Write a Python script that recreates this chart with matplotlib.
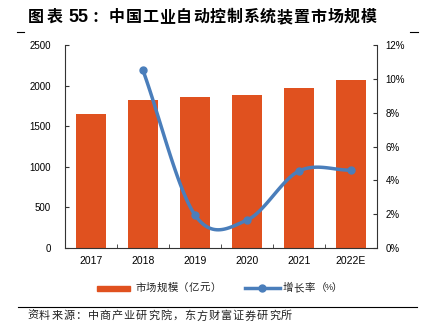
import numpy as np
import matplotlib
matplotlib.use('Agg')
import matplotlib.pyplot as plt
from matplotlib.lines import Line2D
from matplotlib.patches import Rectangle

plt.rcParams['font.family'] = ['Liberation Sans', 'Noto Sans CJK SC', 'DejaVu Sans']

years = ['2017', '2018', '2019', '2020', '2021', '2022E']
market = [1650, 1820, 1860, 1885, 1975, 2065]
growth_years = [1, 2, 3, 4, 5]
growth = [10.5, 1.95, 1.65, 4.55, 4.6]

bar_color = '#E0511F'
line_color = '#4A7EBB'

W, H = 424, 336


def catmull_rom(xs, ys, n=30):
    xs = np.asarray(xs, float)
    ys = np.asarray(ys, float)
    px = np.concatenate([[2 * xs[0] - xs[1]], xs, [2 * xs[-1] - xs[-2]]])
    py = np.concatenate([[2 * ys[0] - ys[1]], ys, [2 * ys[-1] - ys[-2]]])
    outx, outy = [], []
    t = np.linspace(0, 1, n)
    for i in range(1, len(px) - 2):
        for p, out in ((px, outx), (py, outy)):
            p0, p1, p2, p3 = p[i - 1], p[i], p[i + 1], p[i + 2]
            out.extend(0.5 * (2 * p1 + (-p0 + p2) * t
                              + (2 * p0 - 5 * p1 + 4 * p2 - p3) * t ** 2
                              + (-p0 + 3 * p1 - 3 * p2 + p3) * t ** 3))
    return np.array(outx), np.array(outy)


def spaced(fig, x, y, s, pitch, **kw):
    # CJK text drawn char by char with a fixed pitch (pixels)
    for i, ch in enumerate(s):
        fig.text((x + i * pitch) / W, 1 - y / H, ch, va='center', ha='left',
                 family=['Noto Sans CJK SC', 'DejaVu Sans'], **kw)


fig = plt.figure(figsize=(4.24, 3.36), dpi=100)
ax = fig.add_axes([65 / W, 88 / H, 312 / W, 203 / H])
x = np.arange(len(years))
ax.bar(x, market, width=0.58, color=bar_color, zorder=2)
ax.set_xlim(-0.5, len(years) - 0.5)
ax.set_ylim(0, 2500)
ax.set_yticks(range(0, 2501, 500))
ax.set_xticks(x)
ax.set_xticklabels(years)
ax.set_xticks(np.arange(-0.5, len(years), 1), minor=True)
ax.tick_params(axis='x', which='major', length=0, labelsize=7.5, pad=6)
ax.tick_params(axis='x', which='minor', length=3, direction='in', color='#333333')
ax.tick_params(axis='y', labelsize=7, length=3, direction='in', pad=10, color='#333333')
for s in ['top', 'right']:
    ax.spines[s].set_visible(False)
for s in ['left', 'bottom']:
    ax.spines[s].set_color('#333333')
    ax.spines[s].set_linewidth(0.8)

ax2 = ax.twinx()
ax2.set_ylim(0, 12)
ax2.set_yticks(range(0, 13, 2))
ax2.set_yticklabels([f'{v}%' for v in range(0, 13, 2)])
ax2.tick_params(axis='y', labelsize=7, length=3, direction='in', pad=6, color='#333333')
for s in ['top', 'left', 'bottom']:
    ax2.spines[s].set_visible(False)
ax2.spines['right'].set_color('#333333')
ax2.spines['right'].set_linewidth(0.8)
sx, sy = catmull_rom(growth_years, growth)
ax2.plot(sx, sy, color=line_color, lw=2.5, zorder=3)
ax2.plot(growth_years, growth, 'o', color=line_color, ms=5, zorder=4)

# legend, drawn by hand
fig.add_artist(Rectangle((97 / W, 1 - 291 / H), 33 / W, 5 / H, color=bar_color))
spaced(fig, 135, 288, '市场规模（亿元）', 10.8, fontsize=7.5, color='#222222')
fig.add_artist(Line2D([245 / W, 280 / W], [1 - 288 / H] * 2, color=line_color, lw=2.5))
fig.add_artist(Line2D([262 / W], [1 - 288 / H], color=line_color, marker='o', ms=5))
spaced(fig, 283, 288, '增长率（', 10.8, fontsize=7.5, color='#222222')
fig.text(325 / W, 1 - 288 / H, '%', fontsize=6.5, va='center', ha='left', color='#222222')
spaced(fig, 332, 288, '）', 10.8, fontsize=7.5, color='#222222')

# title
spaced(fig, 28, 17, '图表', 18.5, fontsize=11.5, fontweight='bold')
fig.text(68 / W, 1 - 17 / H, '55', fontsize=13, fontweight='bold', va='center', ha='left')
spaced(fig, 92, 17, '：中国工业自动控制系统装置市场规模', 16.8, fontsize=11.5, fontweight='bold')
fig.add_artist(Line2D([17 / W, 24 / W], [1 - 32 / H] * 2, color='black', lw=0.8))
fig.add_artist(Line2D([410 / W, 418 / W], [1 - 32 / H] * 2, color='black', lw=0.8))

# source
fig.add_artist(Line2D([18 / W, 417 / W], [1 - 307 / H] * 2, color='black', lw=0.8))
spaced(fig, 27, 316, '资料来源：中商产业研究院，东方财富证券研究所', 12.1, fontsize=8, color='#222222')

fig.savefig('out.png', dpi=100)
